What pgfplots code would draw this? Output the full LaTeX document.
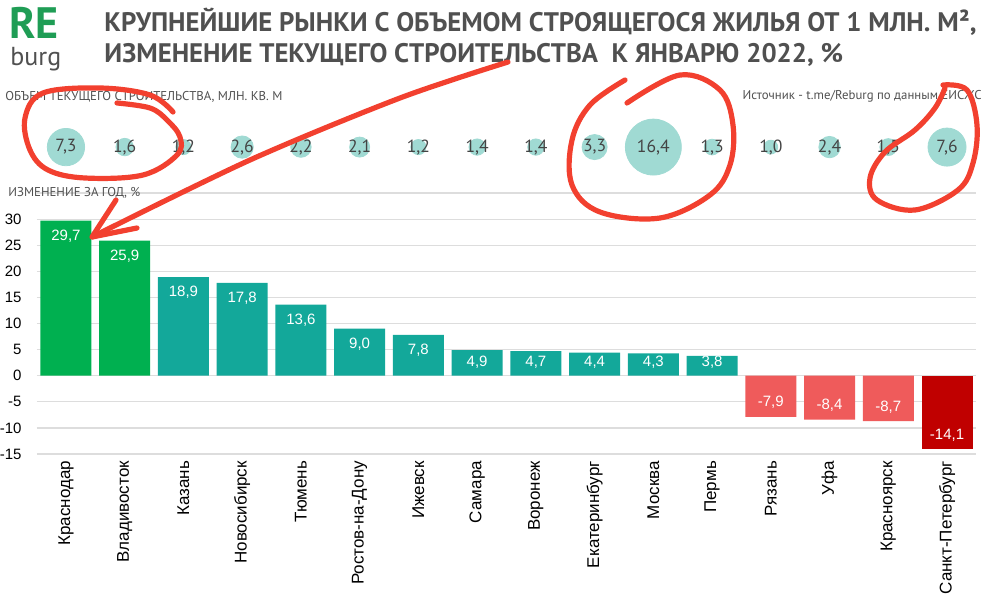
\documentclass[border=0pt]{standalone}
\usepackage{fontspec}
\setmainfont{Liberation Sans}
\newfontfamily\din{PT Sans}
\usepackage{pgfplots}
\usepackage{pgfplotstable}
\pgfplotsset{compat=1.18}

\definecolor{grn}{HTML}{00B050}
\definecolor{tealbar}{HTML}{13A89A}
\definecolor{lred}{HTML}{EF5B5B}
\definecolor{dred}{HTML}{C00000}
\definecolor{bub}{HTML}{A0DAD3}
\definecolor{ttl}{HTML}{505050}
\definecolor{logo}{HTML}{1F9D55}
\definecolor{ink}{HTML}{F2402F}
\definecolor{gridc}{HTML}{DDDDDD}

% объем текущего строительства, млн кв. м
\pgfplotstableread{
i vol
0 7.3
1 1.6
2 1.2
3 2.6
4 2.2
5 2.1
6 1.2
7 1.4
8 1.4
9 3.3
10 16.4
11 1.3
12 1.0
13 2.4
14 1.5
15 7.6
}\vols

\newcommand{\valfmt}{\pgfmathprintnumber[fixed,fixed zerofill,precision=1,use comma,assume math mode=true]{\pgfplotspointmeta}}

\begin{document}
\begin{tikzpicture}[x=0.5pt,y=0.5pt]
\useasboundingbox (0,0) rectangle (996,606);
\begin{axis}[
    at={(18.3pt,76pt)}, anchor=south west,
    scale only axis,
    width=469.9pt, height=130.5pt,
    xmin=-0.5, xmax=15.5,
    ymin=-15, ymax=35,
    clip=false,
    axis line style={draw=none},
    major tick length=0pt,
    ytick={-15,-10,...,30},
    extra y ticks={35}, extra y tick labels={},
    extra y tick style={grid=major},
    ymajorgrids,
    grid style={draw=gridc, line width=0.6pt},
    yticklabel style={font=\fontsize{7.5}{9}\selectfont, xshift=-4pt},
    /pgf/number format/assume math mode=true,
    xtick={0,...,15},
    xticklabels={Краснодар, Владивосток, Казань, Новосибирск, Тюмень, Ростов-на-Дону, Ижевск, Самара, Воронеж, Екатеринбург, Москва, Пермь, Рязань, Уфа, Красноярск, Санкт-Петербург},
    xticklabel style={rotate=90, anchor=east, font=\fontsize{8.5}{10}\selectfont},
    bar/.style={ybar, bar shift=0pt, bar width=25.5pt, draw=none, fill=#1},
    lbl/.style={nodes near coords=\valfmt,
        nodes near coords style={text=white, font=\fontsize{7.5}{9}\selectfont, #1}},
]
\addplot[bar=grn, lbl={anchor=north, yshift=-1pt}]
    coordinates {(0,29.7) (1,25.9)};
\addplot[bar=tealbar, lbl={anchor=north, yshift=-1pt}]
    coordinates {(2,18.9) (3,17.8) (4,13.6) (5,9.0) (6,7.8)};
\addplot[bar=tealbar]
    coordinates {(7,4.9) (8,4.7) (9,4.4) (10,4.3) (11,3.8)};
\addplot[draw=none, mark=none, point meta=explicit, lbl={anchor=center}]
    coordinates {(7,2.5) [4.9] (8,2.5) [4.7] (9,2.5) [4.4] (10,2.5) [4.3] (11,2.5) [3.8]};
\addplot[bar=lred, lbl={anchor=south, yshift=0.5pt}]
    coordinates {(12,-7.9) (13,-8.4) (14,-8.7)};
\addplot[bar=dred, lbl={anchor=south, yshift=0.5pt}]
    coordinates {(15,-14.1)};
% пузыри
\addplot[scatter, only marks, mark=*,
    point meta=explicit,
    scatter/use mapped color={draw=bub, fill=bub},
    visualization depends on={3.455*sqrt(\thisrow{vol}) \as \bubr},
    scatter/@pre marker code/.append style={/tikz/mark size=\bubr}]
    table[x=i, y expr=43.8, meta=vol] {\vols};
\addplot[draw=none, mark=none, point meta=explicit,
    nodes near coords=\valfmt,
    nodes near coords style={anchor=center, text=ttl!85!black, font=\din\fontsize{8.8}{10}\selectfont}]
    table[x=i, y expr=43.8, meta=vol] {\vols};
\end{axis}

\begin{scope}[shift={(0,606)}, yscale=-1]
\node[anchor=base west, inner sep=0, text=logo, font=\din\bfseries\fontsize{22}{22}\selectfont] at (9,39) {RE};
\node[anchor=base west, inner sep=0, text=ttl, font=\din\fontsize{13}{13}\selectfont] at (10,66) {burg};
\node[anchor=base west, inner sep=0, text=ttl, font=\din\bfseries\fontsize{13.4}{16}\selectfont] at (104,32) {КРУПНЕЙШИЕ РЫНКИ С ОБЪЕМОМ СТРОЯЩЕГОСЯ ЖИЛЬЯ ОТ 1 МЛН. М²,};
\node[anchor=base west, inner sep=0, text=ttl, font=\din\bfseries\fontsize{13.4}{16}\selectfont] at (104,63) {ИЗМЕНЕНИЕ ТЕКУЩЕГО СТРОИТЕЛЬСТВА\ \ К ЯНВАРЮ 2022, \%};
\node[anchor=base west, inner sep=0, text=ttl, font=\din\fontsize{6.4}{8}\selectfont] at (5,101) {ОБЪЕМ ТЕКУЩЕГО СТРОИТЕЛЬСТВА, МЛН. КВ. М};
\node[anchor=base east, inner sep=0, text=ttl, font=\din\fontsize{6.4}{8}\selectfont] at (982,100) {Источник - t.me/Reburg по данным ЕИСЖС};
\node[anchor=base west, inner sep=0, text=ttl, font=\din\fontsize{6.4}{8}\selectfont] at (8,197) {ИЗМЕНЕНИЕ ЗА ГОД, \%};

% пометки красным
\begin{scope}[draw=ink, line width=2.6pt, line cap=round, line join=round]
\draw plot[smooth, tension=0.6] coordinates {(117,103) (150,108) (167,120) (180,137) (177,155) (143,175) (85,178) (48,170) (30,150) (25,118) (43,93) (100,88) (150,95) (173,112)};
\draw plot[smooth, tension=0.5] coordinates {(508,62) (400,98) (250,160) (92,237)};
\draw (116,200) -- (92,237) -- (137,228);
\draw plot[smooth, tension=0.6] coordinates {(627,103) (680,75) (720,90) (733,125) (730,165) (710,195) (660,218) (600,212) (572,185) (572,140) (590,105) (625,80)};
\draw plot[smooth, tension=0.6] coordinates {(943,85) (967,90) (977,125) (973,163) (958,190) (915,210) (877,200) (870,178) (885,152) (915,130) (935,108) (945,88)};
\end{scope}
\end{scope}
\end{tikzpicture}
\end{document}
